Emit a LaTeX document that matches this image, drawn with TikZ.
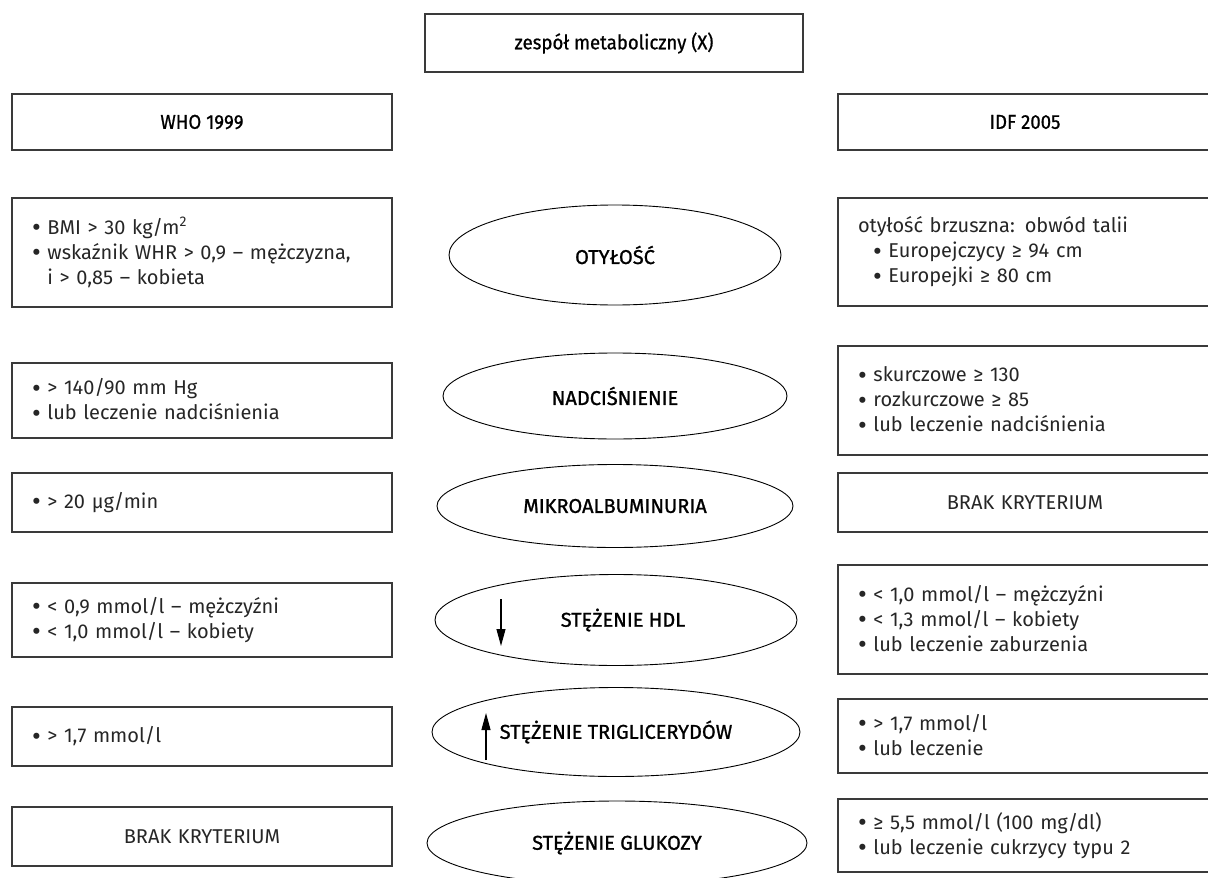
\documentclass[tikz,border=0pt]{standalone}
\usepackage{fontspec}
\setmainfont{Fira Sans}
\newfontfamily\labfont[FakeBold=1.1]{Fira Sans}
\newfontfamily\hdfont[FakeBold=0.8,FakeStretch=0.93]{Fira Sans}
\usetikzlibrary{shapes.geometric,arrows.meta}
\definecolor{txt}{HTML}{262626}
\definecolor{brd}{HTML}{3A3A3A}
\newcommand{\bul}{\raisebox{-0.22ex}{\scalebox{1.35}{•}}}
\begin{document}
\begin{tikzpicture}[x=1pt,y=-1pt,
  every node/.style={font=\fontsize{20}{25}\selectfont},
  box/.style={draw=brd, line width=1.4pt, inner sep=0pt, anchor=center},
  hbox/.style={box, align=center, text=black, font=\fontsize{20}{25}\selectfont\hdfont},
  lbox/.style={box, text=txt, minimum width=380pt, text width=340pt, inner xsep=20pt, align=left},
  rbox/.style={box, text=txt, minimum width=374pt, text width=334pt, inner xsep=20pt, align=left},
  lcbox/.style={lbox, align=center},
  rcbox/.style={rbox, align=center},
  ell/.style={draw=black, ellipse, line width=0.9pt, inner sep=0pt, text=black, font=\fontsize{20}{25}\selectfont\labfont},
  updown/.style={line width=1.1pt, -{Triangle[length=17pt,width=9pt]}}
]
\useasboundingbox (0,0) rectangle (1208,878);
% headers
\node[hbox, minimum width=378pt, minimum height=58pt] (top) at (614,43) {zespół metaboliczny (X)};
\node[hbox, minimum width=380pt, minimum height=56pt] (who) at (202,122) {WHO 1999};
\node[hbox, minimum width=374pt, minimum height=56pt] (idf) at (1025,122) {IDF 2005};
% row 1
\node[lbox, minimum height=109pt] (l1) at (202,252.5) {\bul{} BMI > 30 kg/m\textsuperscript{2}\\\bul{} wskaźnik WHR > 0,9 – mężczyzna,\\\phantom{\bul{} }i > 0,85 – kobieta};
\node[ell, minimum width=332pt, minimum height=100pt] (e1) at (615,255) {OTYŁOŚĆ};
\node[rbox, minimum height=108pt] (r1) at (1025,252) {otyłość brzuszna: obwód talii\\\hspace*{15pt}\bul{} Europejczycy ≥ 94 cm\\\hspace*{15pt}\bul{} Europejki ≥ 80 cm};
% row 2
\node[lbox, minimum height=75pt] (l2) at (202,400.5) {\bul{} > 140/90 mm Hg\\\bul{} lub leczenie nadciśnienia};
\node[ell, minimum width=344pt, minimum height=86pt] (e2) at (615,396) {NADCIŚNIENIE};
\node[rbox, minimum height=109pt] (r2) at (1025,400.5) {\bul{} skurczowe ≥ 130\\\bul{} rozkurczowe ≥ 85\\\bul{} lub leczenie nadciśnienia};
% row 3
\node[lbox, minimum height=59pt] (l3) at (202,502.5) {\bul{} > 20 µg/min};
\node[ell, minimum width=356pt, minimum height=83pt] (e3) at (615,506) {MIKROALBUMINURIA};
\node[rcbox, minimum height=59pt] (r3) at (1025,502.5) {BRAK KRYTERIUM};
% row 4
\node[lbox, minimum height=74pt] (l4) at (202,620) {\bul{} < 0,9 mmol/l – mężczyźni\\\bul{} < 1,0 mmol/l – kobiety};
\node[ell, minimum width=362pt, minimum height=91pt] (e4) at (616,620) {\hspace*{14pt}STĘŻENIE HDL};
\node[rbox, minimum height=109pt] (r4) at (1025,619.5) {\bul{} < 1,0 mmol/l – mężczyźni\\\bul{} < 1,3 mmol/l – kobiety\\\bul{} lub leczenie zaburzenia};
\coordinate (hdlA) at (501,599);
\coordinate (hdlB) at (501,646);
\draw[updown] (hdlA) -- (hdlB);
% row 5
\node[lbox, minimum height=59pt] (l5) at (202,736.5) {\bul{} > 1,7 mmol/l};
\node[ell, minimum width=368pt, minimum height=89pt] (e5) at (616,732) {STĘŻENIE TRIGLICERYDÓW};
\node[rbox, minimum height=74pt] (r5) at (1025,736) {\bul{} > 1,7 mmol/l\\\bul{} lub leczenie};
\coordinate (trA) at (486,760);
\coordinate (trB) at (486,713);
\draw[updown] (trA) -- (trB);
% row 6
\node[lcbox, minimum height=59pt] (l6) at (202,836.5) {BRAK KRYTERIUM};
\node[ell, minimum width=380pt, minimum height=84pt] (e6) at (617,843) {STĘŻENIE GLUKOZY};
\node[rbox, minimum height=73pt] (r6) at (1025,835.5) {\bul{} ≥ 5,5 mmol/l (100 mg/dl)\\\bul{} lub leczenie cukrzycy typu 2};
\end{tikzpicture}
\end{document}
